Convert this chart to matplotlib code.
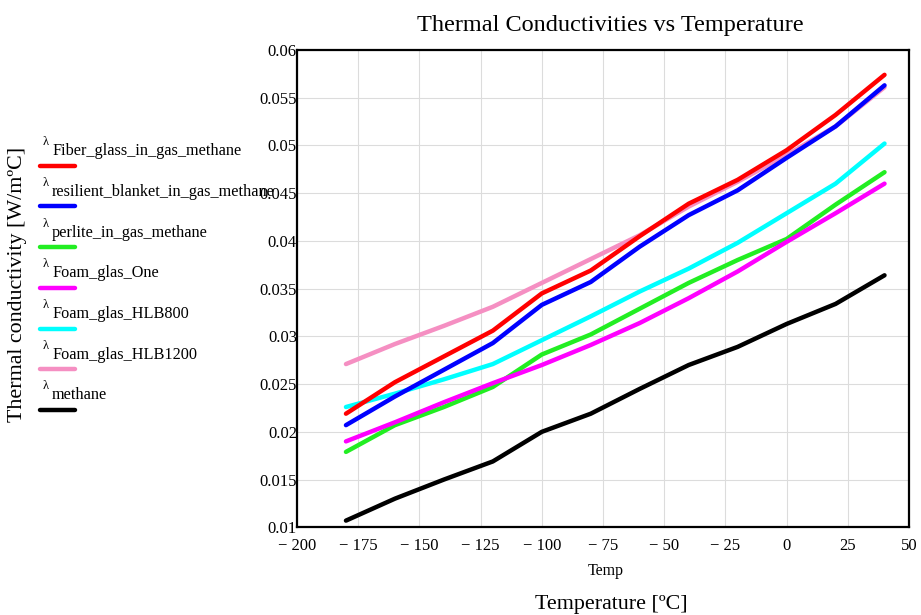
import matplotlib
matplotlib.use("Agg")
import matplotlib.pyplot as plt
from matplotlib.lines import Line2D

plt.rcParams['font.family'] = ['Liberation Serif', 'DejaVu Serif']

temp = [-180, -160, -140, -120, -100, -80, -60, -40, -20, 0, 20, 40]

fiber_glass = [0.0219, 0.0252, 0.0279, 0.0306, 0.0345, 0.0369, 0.0405, 0.0439, 0.0464, 0.0495, 0.0532, 0.0574]
resilient = [0.0207, 0.0237, 0.0265, 0.0293, 0.0333, 0.0357, 0.0394, 0.0427, 0.0453, 0.0487, 0.0520, 0.0563]
perlite = [0.0179, 0.0207, 0.0226, 0.0247, 0.0281, 0.0302, 0.0329, 0.0356, 0.0380, 0.0402, 0.0438, 0.0472]
foam_one = [0.0190, 0.0210, 0.0231, 0.0251, 0.0270, 0.0291, 0.0314, 0.0340, 0.0368, 0.0399, 0.0429, 0.0460]
foam_hlb800 = [0.0226, 0.0240, 0.0255, 0.0271, 0.0296, 0.0321, 0.0347, 0.0371, 0.0398, 0.0429, 0.0460, 0.0502]
foam_hlb1200 = [0.0271, 0.0292, 0.0311, 0.0331, 0.0356, 0.0381, 0.0406, 0.0436, 0.0462, 0.0490, 0.0520, 0.0561]
methane = [0.0107, 0.0130, 0.0150, 0.0169, 0.0200, 0.0219, 0.0245, 0.0270, 0.0289, 0.0313, 0.0334, 0.0364]

series_names = ["Fiber_glass_in_gas_methane", "resilient_blanket_in_gas_methane",
                "perlite_in_gas_methane", "Foam_glas_One", "Foam_glas_HLB800",
                "Foam_glas_HLB1200", "methane"]
series_values = [fiber_glass, resilient, perlite, foam_one, foam_hlb800, foam_hlb1200, methane]
series_colors = ["#ff0000", "#0000ff", "#22ee22", "#ff00ff", "#00ffff", "#f58fc2", "#000000"]

x_ticks = [-200, -175, -150, -125, -100, -75, -50, -25, 0, 25, 50]
x_tick_labels = ["\u2212 200", "\u2212 175", "\u2212 150", "\u2212 125", "\u2212 100", "\u2212 75",
                 "\u2212 50", "\u2212 25", "0", "25", "50"]
y_ticks = [0.01, 0.015, 0.02, 0.025, 0.03, 0.035, 0.04, 0.045, 0.05, 0.055, 0.06]
y_tick_labels = ["0.01", "0.015", "0.02", "0.025", "0.03", "0.035", "0.04", "0.045", "0.05", "0.055", "0.06"]

W, H = 921, 615
fig = plt.figure(figsize=(W / 100, H / 100), dpi=100)
ax = fig.add_axes([297 / W, 1 - 527.3 / H, 612 / W, 477.3 / H])

order = [5, 4, 2, 3, 6, 1, 0]
for i in order:
    ax.plot(temp, series_values[i], color=series_colors[i], lw=3.2, solid_capstyle='round', zorder=3)

ax.set_xlim(-200, 50)
ax.set_ylim(0.01, 0.06)
ax.set_xticks(x_ticks)
ax.set_xticklabels(x_tick_labels)
ax.set_yticks(y_ticks)
ax.set_yticklabels(y_tick_labels)
ax.tick_params(length=0, labelsize=12)
ax.tick_params(axis='x', pad=8)
ax.tick_params(axis='y', pad=0)
for lbl in ax.get_yticklabels():
    lbl.set_va('center_baseline')
ax.grid(True, color='#dcdcdc', lw=0.8, zorder=0)
for s in ax.spines.values():
    s.set_linewidth(1.6)
    s.set_color('black')

def fx(px):
    return px / W

def fy(py):
    return 1 - py / H

fig.text(fx(610), fy(25), "Thermal Conductivities vs Temperature", ha='center', va='center', fontsize=17.5)
fig.text(fx(606), fy(571), "Temp", ha='center', va='center', fontsize=11.5)
fig.text(fx(611), fy(605), "Temperature [ºC]", ha='center', va='center', fontsize=15.8)
fig.text(fx(18), fy(284), "Thermal conductivity [W/mºC]", ha='center', va='center', rotation=90, fontsize=15.8)

# legend
for k, (name, col) in enumerate(zip(series_names, series_colors)):
    ly = 165.7 + k * 40.7
    fig.add_artist(Line2D([fx(40), fx(75)], [fy(ly), fy(ly)], color=col, lw=3.2,
                          solid_capstyle='round', transform=fig.transFigure))
    fig.text(fx(42.5), fy(ly - 23.5), "λ", ha='left', va='center', fontsize=9)
    fig.text(fx(52), fy(ly - 10.5), name, ha='left', va='baseline', fontsize=11.7)

fig.savefig("out.png", dpi=100)
